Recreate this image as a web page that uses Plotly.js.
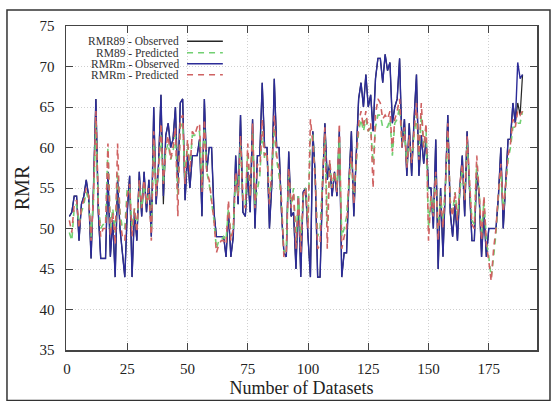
<!DOCTYPE html>
<html>
<head>
<meta charset="utf-8">
<script src="https://cdn.plot.ly/plotly-3.0.1.min.js"></script>
<style>html,body{margin:0;padding:0;background:#fff;}#chart{width:552px;height:401px;}</style>
</head>
<body>
<div id="chart"></div>
<script>
// Dataset index (x) and series values
const rmrmObserved = [
51.5,52,54,54,48.5,53,54,56,54,46.3,55,66,52,46.3,46.3,46.3,57,46.5,51,44,
56,50,47,44,52,56.5,44,52,48.5,57,51.5,57,52,56,49,65,53,58,66.5,54,
61.5,63,60,61,65,55,65.5,66,53.5,59,55,59,59,59,61,51.5,66,57,60,60,
52,49,49,49,49,46.5,52,46.5,49,59,53,64,52,51.5,57,52,63.5,50,59,59,
68,60,60,50,55.5,68.5,60,60,52,47,46.5,59.5,51.5,52,45,54,44,54.5,55,49,
44,62,56.5,44,44,55,63,56,58,54,57,54,62,44,47,47,56,62,51.5,59,
66,68,65,69,65,66.5,62,68.5,71,71,68,71.5,69.5,70.5,63,65,66,71,60,63.5,
56.5,63,56.5,63.5,69,56.5,61.5,58,61,55,55,50,61,45,55,46.5,55,64,52,49,
53,48.5,55,59,51.5,62,55,48.5,48.5,57,54,46.5,52,46.5,50,50,50,50,54,60,
50,56,61,61,65.5,63,70.5,68.5,69];

const rmr89Observed = [
51.5,52,54,54,48.5,53,54,56,54,46.3,55,66,52,46.3,46.3,46.3,57,46.5,51,44,
56,50,47,44,52,56.5,44,52,48.5,57,51.5,57,52,56,49,65,53,58,66.5,53,
61.5,63,60,61,65,55,65.5,66,53.5,59,55,59,59,59,61,51.5,66,57,60,60,
52,49,49,49,49,46.5,52,46.5,49,59,53,64,52,51.5,57,52,63.5,50,59,59,
68,60,60,50,55.5,68.5,60,60,52,47,46.5,59.5,51.5,52,45,54,44,54.5,55,49,
44,62,56.5,44,44,55,63,56,58,54,57,54,62,44,47,47,56,62,51.5,59,
66,68,65,69,65,66.5,62,68.5,71,71,68,71.5,69.5,70.5,63,65,66,71,60,63.5,
56.5,63,56.5,63.5,69,56.5,61.5,58,61,55,55,50,61,45,55,46.5,55,64,52,49,
53,48.5,55,59,51.5,62,55,48.5,48.5,57,54,46.5,52,46.5,50,50,50,50,54,60,
50,56,61,61,65.5,63,65.5,64,69];

const rmr89Predicted = [
49.5,48.5,52.5,53,50.5,52,53,54.5,53.5,49,53.5,63,53,50,50.5,50.5,60,50,52.5,49.5,
57,52,50,50,55,55,50,52.5,50,55.5,52.5,55.5,53,54.5,50,60.5,54.5,57,61.5,55.5,
59.5,60.5,58.5,59.5,61.5,54,62.5,63,56,60.5,57.5,61.5,61.5,62,62,55,62.5,57,55.5,53,
51,47.5,48.5,48.5,49,48.5,52.5,49,50,56.5,54,60.5,53.5,53,59.5,54,62,53,55,56.5,
62,58.5,59,53.5,56.5,62.5,58.5,56.5,53,47,47.5,56.5,53,55,48.5,54,48.5,54,55,51,
61.5,61.5,56,49,50,55.5,61.5,50.5,58,55,57,55,61,49,50,51.5,56,58.5,53.5,58,
62,63.5,62,63.5,62,62.5,58,62.5,64,64,62.5,62.5,62.5,63.5,59,63,63.5,65,60.5,62,
58,61,58.5,61.5,64,59,64,60,62,50,54,52,56.5,50,54,51,55,61.5,53.5,52,
54.5,51.5,55,57.5,53.5,60.5,55.5,51,50.5,58,54.5,49,53.5,48.5,46.5,44,46.5,49.5,54,57,
52.5,55,58.5,60,62.5,62.5,63,63,64.5];

const rmrmPredicted = [
51,49.5,53,53.5,50,52.5,53.5,55,54,48.5,54,64.5,53,49,50,50,60.5,49,52,48,
60.5,51,49,48.5,54,55.5,49,52.5,49.5,56,52.5,56,53,55,48.5,62,54,57.5,63,55.5,
60,61.5,58.5,60,62.5,51.5,63.5,64,55.5,61,57,62,61.5,62.5,63,54.5,63.5,57,56,53.5,
51,47,48,48.5,48.5,48,53.5,48.5,50,57,54,61.5,53.5,52.5,60.5,54,63,52.5,58,57,
63.5,59,59.5,53,57.5,64,59,57.5,53.5,46.5,47,57.5,52.5,54.5,47.5,54,47,54,55,50,
63.5,60.5,56,47.5,48,55.5,62.5,47.5,58.5,55,57,54.5,63,47.5,49,50,56,59.5,53,58.5,
63,64.5,62.5,64.5,62,63,55,64,66,65.5,63.5,64,63.5,64.5,59.5,63.5,64.5,66,60,62.5,
57.5,61.5,58,62,65.5,58.5,65.5,60,63,48.5,54,51.5,57,48.5,54,50,55.5,63,53,51.5,
54.5,51,55.5,58,53.5,61.5,55.5,50.5,50,59,54.5,48.5,54,48,46,43.5,47.5,50,54.5,58,
52,55.5,59,60.5,63.5,62.5,64.5,64,64.5];

const datasetIndex = rmrmObserved.map((_, i) => i + 1);

const legendLabels = ["RMR89 - Observed", "RM89 - Predicted", "RMRm - Observed", "RMRm - Predicted"];
const xTickValues = [0, 25, 50, 75, 100, 125, 150, 175];
const yTickValues = [35, 40, 45, 50, 55, 60, 65, 70, 75];

const colors = {black: "#262626", green: "#72d072", blue: "#2c2c98", red: "#cf6262"};
const serif = "Liberation Serif, Times New Roman, serif";

const traces = [
  {x: datasetIndex, y: rmr89Observed, name: legendLabels[0], mode: "lines",
   line: {color: colors.black, width: 1.2}},
  {x: datasetIndex, y: rmrmObserved, name: legendLabels[2], mode: "lines",
   line: {color: colors.blue, width: 1.4}},
  {x: datasetIndex, y: rmr89Predicted, name: legendLabels[1], mode: "lines",
   line: {color: colors.green, width: 1.6, dash: "6px,5px"}},
  {x: datasetIndex, y: rmrmPredicted, name: legendLabels[3], mode: "lines",
   line: {color: colors.red, width: 1.6, dash: "6px,5px"}}
];

const legendRowsY = [0.9528, 0.9176, 0.8836, 0.8497];
const legendColors = [colors.black, colors.green, colors.blue, colors.red];
const legendDash = ["solid", "6px,5px", "solid", "6px,5px"];

const shapes = [
  // legend background
  {type: "rect", xref: "paper", yref: "paper", x0: 0.003, x1: 0.34, y0: 0.827, y1: 0.997,
   fillcolor: "#ffffff", line: {width: 0}, layer: "between"},
  // outer frame
  {type: "rect", xref: "paper", yref: "paper", x0: -0.1253, x1: 1.0276, y0: -0.156, y1: 1.049,
   line: {color: "#333", width: 1.5}, fillcolor: "rgba(0,0,0,0)"}
];
const annotations = [];
legendLabels.forEach((t, k) => {
  annotations.push({xref: "paper", yref: "paper", x: 0.244, y: legendRowsY[k], text: t,
    showarrow: false, xanchor: "right", yanchor: "middle",
    font: {family: serif, size: 11.5, color: "#333"}});
  shapes.push({type: "line", xref: "paper", yref: "paper", x0: 0.257, x1: 0.333,
    y0: legendRowsY[k], y1: legendRowsY[k],
    line: {color: legendColors[k], width: 1.5, dash: legendDash[k]}});
});

const axisCommon = {
  showline: true, linecolor: "#444", linewidth: 1.5, mirror: "ticks",
  ticks: "inside", ticklen: 7, tickcolor: "#444", tickwidth: 1,
  showgrid: true, gridcolor: "#cfcfcf", griddash: "1px,2px", gridwidth: 1,
  zeroline: false, tickfont: {family: serif, size: 15, color: "#222"}
};

const layout = {
  width: 552, height: 401,
  margin: {l: 66, r: 15, t: 26, b: 51},
  paper_bgcolor: "#ffffff", plot_bgcolor: "#ffffff",
  showlegend: false,
  xaxis: Object.assign({}, axisCommon, {
    range: [-0.4, 195], tickvals: xTickValues, ticklabelstandoff: 4,
    title: {text: "Number of Datasets", font: {family: serif, size: 18, color: "#222"}, standoff: 6}
  }),
  yaxis: Object.assign({}, axisCommon, {
    range: [35, 75], tickvals: yTickValues, ticklabelstandoff: 7,
    title: {text: "RMR", font: {family: serif, size: 20, color: "#222"}, standoff: 4}
  }),
  shapes: shapes,
  annotations: annotations
};

Plotly.newPlot("chart", traces, layout, {displayModeBar: false, staticPlot: true});
</script>
</body>
</html>
